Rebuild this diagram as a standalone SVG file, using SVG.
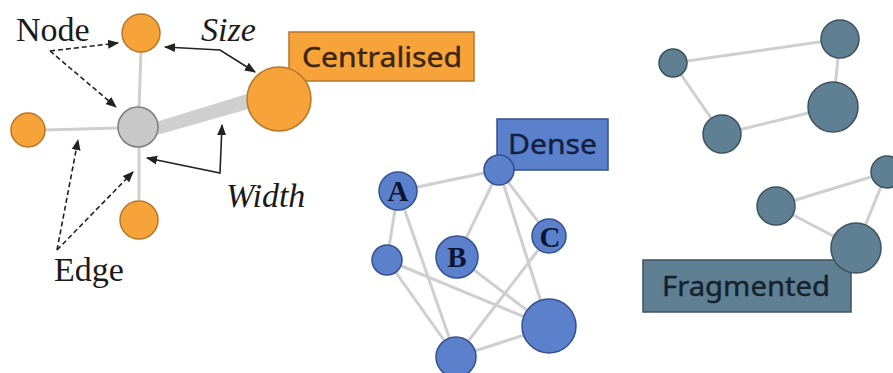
<svg xmlns="http://www.w3.org/2000/svg" width="893" height="373" viewBox="0 0 893 373">
<style>
.edge{stroke:#cfcfcf;stroke-width:3;fill:none}
.or{fill:#f6a43a;stroke:#b8762a;stroke-width:1.5}
.gr{fill:#c8c8c8;stroke:#7d7d7d;stroke-width:1.5}
.bl{fill:#5b80cc;stroke:#34508f;stroke-width:1.5}
.sl{fill:#5f7f92;stroke:#3c5160;stroke-width:1.5}
.lbl{font-family:"Liberation Serif",serif;font-size:34px;fill:#1a1a1a}
.it{font-style:italic}
.box{font-family:"Noto Sans",sans-serif;font-size:28px;stroke-width:0.4}
.let{font-family:"Liberation Serif",serif;font-weight:bold;font-size:29px;fill:#0d1530;text-anchor:middle}
.dash{stroke:#222;stroke-width:1.6;stroke-dasharray:5 3;fill:none}
.sol{stroke:#222;stroke-width:1.6;fill:none}
</style>
<defs>
<marker id="ah" viewBox="0 0 10 10" refX="9" refY="5" markerWidth="7" markerHeight="7" orient="auto-start-reverse">
<path d="M0,1 L10,5 L0,9 z" fill="#222"/>
</marker>
</defs>
<g id="connectors">
<line class="edge" x1="141" y1="52" x2="139" y2="108"/>
<line class="edge" x1="45" y1="130" x2="118" y2="128"/>
<line class="edge" x1="139" y1="147" x2="139" y2="200"/>
<polygon points="156,122 250,93 252,108 157,135" fill="#cfcfcf"/>
<line class="edge" x1="398" y1="191" x2="499" y2="170"/>
<line class="edge" x1="398" y1="191" x2="387" y2="260"/>
<line class="edge" x1="398" y1="191" x2="456" y2="357"/>
<line class="edge" x1="499" y1="170" x2="457" y2="257"/>
<line class="edge" x1="499" y1="170" x2="549" y2="236"/>
<line class="edge" x1="499" y1="170" x2="549" y2="327"/>
<line class="edge" x1="549" y1="236" x2="456" y2="357"/>
<line class="edge" x1="457" y1="257" x2="549" y2="327"/>
<line class="edge" x1="387" y1="260" x2="549" y2="327"/>
<line class="edge" x1="387" y1="260" x2="456" y2="357"/>
<line class="edge" x1="456" y1="357" x2="549" y2="327"/>
<line class="edge" x1="673" y1="63" x2="840" y2="39"/>
<line class="edge" x1="673" y1="63" x2="722" y2="134"/>
<line class="edge" x1="840" y1="39" x2="833" y2="107"/>
<line class="edge" x1="833" y1="107" x2="722" y2="134"/>
<line class="edge" x1="776" y1="206" x2="887" y2="172"/>
<line class="edge" x1="776" y1="206" x2="856" y2="248"/>
<line class="edge" x1="887" y1="172" x2="856" y2="248"/>
</g>
<g id="annotations">
<path class="dash" d="M50,51 L118,43" marker-end="url(#ah)"/>
<path class="dash" d="M50,51 L116,107" marker-end="url(#ah)"/>
<path class="dash" d="M57,250 L78,140" marker-end="url(#ah)"/>
<path class="dash" d="M57,250 L133,172" marker-end="url(#ah)"/>
<path class="sol" d="M165,47 L220,50 L255,72" marker-start="url(#ah)" marker-end="url(#ah)"/>
<path class="sol" d="M147,158 L220,173 L222,125" marker-start="url(#ah)" marker-end="url(#ah)"/>
<text class="lbl" x="16" y="41">Node</text>
<text class="lbl" x="54" y="281">Edge</text>
<text class="lbl it" x="201" y="41">Size</text>
<text class="lbl it" x="226" y="207">Width</text>
</g>
<g id="centralised-label">
<rect x="289" y="32" width="185" height="49" fill="#f6a43a" stroke="#b8762a" stroke-width="1.5"/>
<text class="box" x="302" y="67" textLength="160" lengthAdjust="spacingAndGlyphs" fill="#3a2410" stroke="#3a2410">Centralised</text>
</g>
<g id="c-top"><circle class="or" cx="141" cy="33" r="19"/></g>
<g id="c-left"><circle class="or" cx="28" cy="130" r="17"/></g>
<g id="c-bottom"><circle class="or" cx="139" cy="220" r="19"/></g>
<g id="c-hub"><circle class="gr" cx="138" cy="127" r="20"/></g>
<g id="c-big"><circle class="or" cx="279" cy="99" r="32"/></g>
<g id="dense-label">
<rect x="497" y="119" width="111" height="51" fill="#5b80cc" stroke="#34508f" stroke-width="1.5"/>
<text class="box" x="508" y="154" textLength="89" lengthAdjust="spacingAndGlyphs" fill="#14213d" stroke="#14213d">Dense</text>
</g>
<g id="d-a"><circle class="bl" cx="398" cy="191" r="19"/><text class="let" x="398" y="201">A</text></g>
<g id="d-top"><circle class="bl" cx="499" cy="170" r="15"/></g>
<g id="d-c"><circle class="bl" cx="549" cy="236" r="17"/><text class="let" x="550" y="247">C</text></g>
<g id="d-b"><circle class="bl" cx="457" cy="257" r="21"/><text class="let" x="457" y="267">B</text></g>
<g id="d-left"><circle class="bl" cx="387" cy="260" r="15"/></g>
<g id="d-big"><circle class="bl" cx="549" cy="326" r="27"/></g>
<g id="d-bottom"><circle class="bl" cx="456" cy="357" r="20"/></g>
<g id="fragmented-label">
<rect x="643" y="260" width="208" height="52" fill="#5f7f92" stroke="#3c5160" stroke-width="1.5"/>
<text class="box" x="662" y="296" textLength="168" lengthAdjust="spacingAndGlyphs" fill="#16222c" stroke="#16222c">Fragmented</text>
</g>
<g id="f-1"><circle class="sl" cx="673" cy="63" r="14"/></g>
<g id="f-2"><circle class="sl" cx="840" cy="39" r="19"/></g>
<g id="f-3"><circle class="sl" cx="833" cy="107" r="25"/></g>
<g id="f-4"><circle class="sl" cx="722" cy="134" r="19"/></g>
<g id="f-5"><circle class="sl" cx="776" cy="206" r="19"/></g>
<g id="f-6"><circle class="sl" cx="887" cy="172" r="16"/></g>
<g id="f-7"><circle class="sl" cx="856" cy="248" r="25"/></g>
</svg>
